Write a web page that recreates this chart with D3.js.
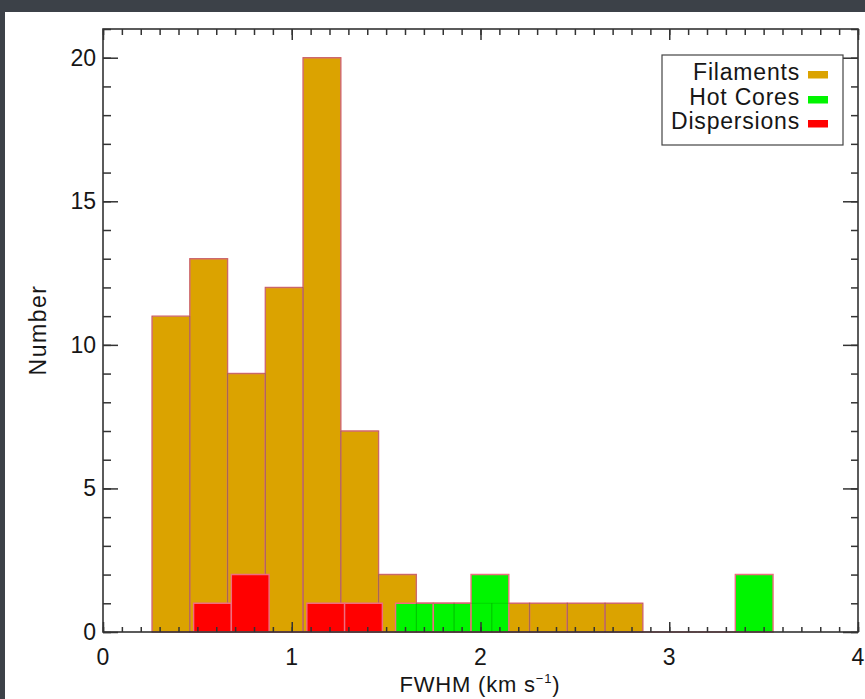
<!DOCTYPE html>
<html>
<head>
<meta charset="utf-8">
<script src="https://cdn.jsdelivr.net/npm/d3@7"></script>
<style>
  html, body { margin: 0; padding: 0; background: #3c4148; }
  svg { display: block; }
  text { font-family: "Liberation Sans", Arial, Helvetica, sans-serif; fill: #161616; }
</style>
</head>
<body>
<script>
// ---- data ----
const binWidth = 0.2;
const filamentBinStart = [0.26, 0.46, 0.66, 0.86, 1.06, 1.26, 1.46, 1.66, 1.86, 2.06, 2.26, 2.46, 2.66];
const filamentCounts   = [11,   13,   9,    12,   20,   7,    2,    1,    1,    1,    1,    1,    1];
const hotCoreBinStart  = [1.55, 1.75, 1.95, 2.15, 2.35, 2.55, 2.75, 2.95, 3.15, 3.35];
const hotCoreCounts    = [1,    1,    2,    0,    0,    0,    0,    0,    0,    2];
const dispersionBinStart = [0.48, 0.68, 0.88, 1.08, 1.28];
const dispersionCounts   = [1,    2,    0,    1,    1];
const seriesNames  = ["Filaments", "Hot Cores", "Dispersions"];
const seriesColors = ["#dba300", "#00f500", "#ff0000"];
const xTicks = [0, 1, 2, 3, 4];
const yTicks = [0, 5, 10, 15, 20];
const xLabel = "FWHM (km s";
const yLabel = "Number";

// ---- layout ----
const W = 865, H = 699;
const m = { left: 103, right: 858, top: 29, bottom: 632 };

const svg = d3.select("body").append("svg").attr("width", W).attr("height", H);
svg.append("rect").attr("x", 0).attr("y", 0).attr("width", W).attr("height", H).attr("fill", "#3c4148");
svg.append("rect").attr("x", 5).attr("y", 12).attr("width", W - 5).attr("height", H - 12).attr("fill", "#ffffff");

const x = d3.scaleLinear().domain([0, 4]).range([m.left, m.right]);
const y = d3.scaleLinear().domain([0, 21]).range([m.bottom, m.top]);

function barPath(s, c) {
  const x0 = x(s), x1 = x(s + binWidth), y0 = y(0), y1 = y(c);
  return `M${x0},${y0}V${y1}H${x1}V${y0}Z`;
}

const series = [
  { starts: filamentBinStart, counts: filamentCounts },
  { starts: hotCoreBinStart, counts: hotCoreCounts },
  { starts: dispersionBinStart, counts: dispersionCounts }
];

const strokeCol = "#ee6d80";
series.forEach((s, i) => {
  svg.append("g").selectAll("path")
    .data(s.starts.map((st, k) => ({ st, c: s.counts[k] })))
    .join("path")
    .attr("d", d => barPath(d.st, d.c))
    .attr("fill", seriesColors[i])
    .attr("stroke", strokeCol)
    .attr("stroke-width", 1.4);
  if (i === 1) {
    // faint filament bin edges showing through the hot-core bars
    svg.append("g").selectAll("path")
      .data(filamentBinStart.map((st, k) => ({ st, c: filamentCounts[k] })))
      .join("path")
      .attr("d", d => barPath(d.st, d.c))
      .attr("fill", "none")
      .attr("stroke", "rgba(0,90,0,0.18)")
      .attr("stroke-width", 1);
  }
});

// ---- axes (IDL-style, ticks inward on all four sides) ----
const axisCol = "#333";
const g = svg.append("g");
g.append("rect").attr("x", m.left).attr("y", m.top)
  .attr("width", m.right - m.left).attr("height", m.bottom - m.top)
  .attr("fill", "none").attr("stroke", axisCol).attr("stroke-width", 1.6);

const xMinor = d3.range(0, 41).map(v => v / 10);
const yMinor = d3.range(0, 22);

const xb = d3.axisBottom(x).tickValues(xMinor).tickSize(-5).tickFormat("");
const xbM = d3.axisBottom(x).tickValues(xTicks).tickSize(-10).tickFormat("");
const xt = d3.axisTop(x).tickValues(xMinor).tickSize(-6).tickFormat("");
const xtM = d3.axisTop(x).tickValues(xTicks).tickSize(-11).tickFormat("");
[[xb, m.bottom], [xbM, m.bottom], [xt, m.top], [xtM, m.top]].forEach(([ax, ty]) => {
  const a = g.append("g").attr("transform", `translate(0,${ty})`).call(ax);
  a.select(".domain").remove();
  a.selectAll("line").attr("stroke", axisCol).attr("stroke-width", 1.5);
});
const yl = d3.axisLeft(y).tickValues(yMinor).tickSize(-8).tickFormat("");
const ylM = d3.axisLeft(y).tickValues(yTicks).tickSize(-15).tickFormat("");
const yr = d3.axisRight(y).tickValues(yMinor).tickSize(-7).tickFormat("");
const yrM = d3.axisRight(y).tickValues(yTicks).tickSize(-15).tickFormat("");
[[yl, m.left], [ylM, m.left], [yr, m.right], [yrM, m.right]].forEach(([ax, tx]) => {
  const a = g.append("g").attr("transform", `translate(${tx},0)`).call(ax);
  a.select(".domain").remove();
  a.selectAll("line").attr("stroke", axisCol).attr("stroke-width", 1.5);
});

// tick labels
svg.append("g").selectAll("text").data(xTicks).join("text")
  .attr("x", d => x(d)).attr("y", 665)
  .attr("text-anchor", "middle").attr("font-size", 23)
  .text(d => d);
svg.append("g").selectAll("text").data(yTicks).join("text")
  .attr("x", 96).attr("y", d => y(d) + 8)
  .attr("text-anchor", "end").attr("font-size", 23)
  .text(d => d);

// axis titles
const xt_ = svg.append("text").attr("x", 480).attr("y", 692)
  .attr("text-anchor", "middle").attr("font-size", 22).attr("letter-spacing", 0.8);
xt_.append("tspan").text(xLabel);
xt_.append("tspan").attr("font-size", 13).attr("dy", -9).text("−1");
xt_.append("tspan").attr("dy", 9).text(")");

svg.append("text")
  .attr("transform", "translate(46,330) rotate(-90)")
  .attr("text-anchor", "middle").attr("font-size", 23).attr("letter-spacing", 1.5)
  .text(yLabel);

// legend
const lg = svg.append("g");
lg.append("rect").attr("x", 662).attr("y", 55).attr("width", 181).attr("height", 90)
  .attr("fill", "#fff").attr("stroke", "#444").attr("stroke-width", 1.2);
const baselines = [80, 105, 129];
seriesNames.forEach((n, i) => {
  lg.append("text").attr("x", 800).attr("y", baselines[i])
    .attr("text-anchor", "end").attr("font-size", 23).attr("letter-spacing", 0.8).text(n);
  lg.append("rect").attr("x", 808).attr("y", baselines[i] - 9)
    .attr("width", 20).attr("height", 7.5).attr("fill", seriesColors[i]);
});
</script>
</body>
</html>
